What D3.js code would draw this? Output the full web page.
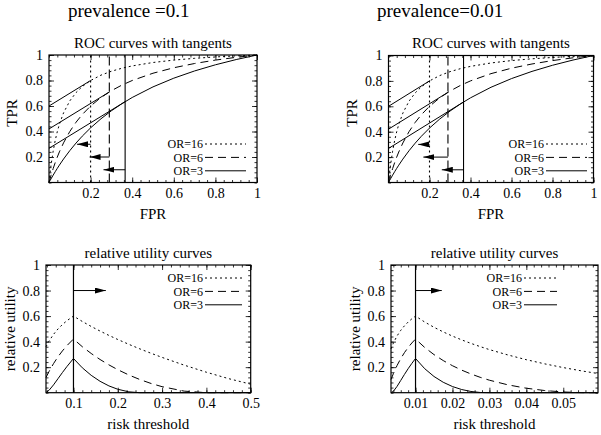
<!DOCTYPE html>
<html><head><meta charset="utf-8">
<script src="https://cdn.jsdelivr.net/npm/d3@7"></script>
<style>
body{margin:0;background:#fff}
svg{display:block}
text{font-family:"Liberation Serif","Times New Roman",serif;fill:#000}
</style>
</head><body>
<svg id="c" width="601" height="435"></svg>
<script>
// ---------------- data ----------------
const prevalenceTitles = ["prevalence =0.1", "prevalence=0.01"];
const prevalences = [0.1, 0.01];
const orLabels = ["OR=16", "OR=6", "OR=3"];

// ROC curves (FPR vs TPR) for each odds ratio
const rocFPR  = [0,0.005,0.01,0.02,0.03,0.04,0.05,0.07,0.1,0.13,0.16,0.2,0.25,0.3,0.35,0.4,0.5,0.6,0.7,0.8,0.9,1];
const rocTPR16 = [0,0.0744,0.1391,0.2462,0.3310,0.4000,0.4571,0.5464,0.6400,0.7051,0.7529,0.8,0.8421,0.8727,0.8960,0.9143,0.9412,0.96,0.9739,0.9846,0.9931,1];
const rocTPR6  = [0,0.0293,0.0571,0.1091,0.1565,0.2,0.24,0.3111,0.4,0.4727,0.5333,0.6,0.6667,0.72,0.7636,0.8,0.8571,0.9,0.9333,0.96,0.9818,1];
const rocTPR3  = [0,0.0149,0.0294,0.0577,0.0849,0.1111,0.1364,0.1842,0.25,0.3095,0.3636,0.4286,0.5,0.5625,0.6176,0.6667,0.75,0.8182,0.875,0.9231,0.9643,1];

// tangent points (slope 1) and their intercepts
const tangentFPR = [0.2, 0.29, 0.366];
const tangentTPR = [0.8, 0.71, 0.634];
const tangentIntercept = [0.6, 0.42, 0.268];
const arrowTPR = [0.3, 0.2, 0.1];
const arrowTipFPR = [[0.135, 0.195, 0.262], [0.145, 0.17, 0.26]];

// relative utility curves, prevalence 0.1
const riskA = [0.038,0.045,0.055,0.065,0.075,0.085,0.1,0.12,0.14,0.16,0.18,0.2,0.225,0.25,0.275,0.3,0.35,0.4,0.45,0.5];
const ruA16 = [0.3597,0.4049,0.4571,0.4989,0.5336,0.5632,0.6,0.5577,0.5188,0.4827,0.4487,0.4167,0.3788,0.3429,0.3089,0.2764,0.2156,0.1603,0.1103,0.0667];
const ruA6  = [0.1193,0.1670,0.2280,0.2810,0.3271,0.3677,0.4202,0.3600,0.3071,0.2600,0.2180,0.1803,0.1388,0.1029,0.0724,0.0471,0.0123,0,0,0];
const ruA3  = [0.0015,0.0193,0.0614,0.1094,0.1576,0.2038,0.2679,0.1948,0.1361,0.0894,0.0533,0.0269,0.0067,0,0,0,0,0,0,0];
// relative utility curves, prevalence 0.01
const riskB = [0.00336,0.004,0.005,0.006,0.007,0.008,0.009,0.01,0.0125,0.015,0.0175,0.02,0.0225,0.025,0.0275,0.03,0.035,0.04,0.045,0.05,0.055,0.0594];
const ruB16 = [0.3432,0.3885,0.4446,0.4883,0.5237,0.5533,0.5783,0.6,0.5531,0.5123,0.4760,0.4432,0.4135,0.3862,0.3609,0.3375,0.2955,0.2584,0.2257,0.1966,0.1706,0.1499];
const ruB6  = [0.1032,0.1491,0.2129,0.2672,0.3137,0.3540,0.3892,0.4202,0.3538,0.2984,0.2516,0.2114,0.1767,0.1467,0.1205,0.0979,0.0615,0.0350,0.0168,0.0056,0.0005,0];
const ruB3  = [0,0.0107,0.0494,0.0962,0.1431,0.1879,0.2295,0.2679,0.1877,0.1271,0.0816,0.0482,0.0247,0.0096,0.0017,0,0,0,0,0,0,0];
const utilArrowTip = [0.173, 0.0171];
const utilArrowLevel = 0.8;

// axes
const rocTicks = [0.2, 0.4, 0.6, 0.8, 1];
const ruYTicks = [0.2, 0.4, 0.6, 0.8, 1];
const ruXTicksA = [0.1, 0.2, 0.3, 0.4, 0.5];
const ruXTicksB = [0.01, 0.02, 0.03, 0.04, 0.05];
const ruDomainA = [0.038, 0.5];
const ruDomainB = [0.00336, 0.0594];

// ---------------- layout / style ----------------
const dashes = ["2,3", "8,5", null];
const rocBoxes = [{l:49, r:257, t:55, b:182.5}, {l:388.5, r:593.5, t:55.5, b:182.5}];
const ruBoxes  = [{l:46, r:250.7, t:265, b:392.7}, {l:391, r:598, t:265, b:392.7}];
const rocLegend = [{te:203, x1:205, x2:246, ys:[144,157.4,170.8]}, {te:544, x1:546, x2:587, ys:[144,157.4,170.8]}];
const ruLegend  = [{te:203, x1:205, x2:242, ys:[278,291.4,304.8]}, {te:522, x1:524, x2:557, ys:[278,291.4,304.8]}];
const titleX = [68, 377];

const svg = d3.select("#c");
svg.append("rect").attr("width", 601).attr("height", 435).attr("fill", "#fff");
const defs = svg.append("defs");
defs.append("marker").attr("id", "ah").attr("viewBox", "0 0 11 6")
  .attr("refX", 11).attr("refY", 3).attr("markerWidth", 11).attr("markerHeight", 6)
  .attr("markerUnits", "userSpaceOnUse").attr("orient", "auto")
  .append("path").attr("d", "M0,0L11,3L0,6Z").attr("fill", "#000");

function minorTicks(dom, major) {
  const step = (major[1] - major[0]) / 5;
  const out = [];
  const start = Math.ceil((dom[0] - 1e-9) / step);
  for (let i = start; i * step <= dom[1] + 1e-9; i++) out.push(+(i * step).toFixed(6));
  return out;
}

function frame(g, x, y, xMajor, yMajor, box) {
  const w = box.r - box.l, h = box.b - box.t;
  const xMinor = minorTicks(x.domain(), xMajor), yMinor = minorTicks(y.domain(), yMajor);
  const styleAxis = sel => { sel.select(".domain").remove(); sel.selectAll("line").attr("stroke", "#000").attr("stroke-width", 0.8); };
  // minor ticks (all sides)
  g.append("g").attr("transform", `translate(0,${h})`).call(d3.axisBottom(x).tickValues(xMinor).tickSize(-2.5).tickFormat("")).call(styleAxis);
  g.append("g").call(d3.axisTop(x).tickValues(xMinor).tickSize(-2.5).tickFormat("")).call(styleAxis);
  g.append("g").call(d3.axisLeft(y).tickValues(yMinor).tickSize(-2.5).tickFormat("")).call(styleAxis);
  g.append("g").attr("transform", `translate(${w},0)`).call(d3.axisRight(y).tickValues(yMinor).tickSize(-2.5).tickFormat("")).call(styleAxis);
  // major ticks with labels
  const xa = g.append("g").attr("transform", `translate(0,${h})`)
    .call(d3.axisBottom(x).tickValues(xMajor).tickSize(-5).tickPadding(5.5).tickFormat(d => String(d))).call(styleAxis);
  xa.selectAll("text").attr("font-size", 14).attr("font-family", null);
  g.append("g").call(d3.axisTop(x).tickValues(xMajor).tickSize(-5).tickFormat("")).call(styleAxis);
  const ya = g.append("g")
    .call(d3.axisLeft(y).tickValues(yMajor).tickSize(-5).tickPadding(6).tickFormat(d => String(d))).call(styleAxis);
  ya.selectAll("text").attr("font-size", 14).attr("font-family", null);
  g.append("g").attr("transform", `translate(${w},0)`).call(d3.axisRight(y).tickValues(yMajor).tickSize(-5).tickFormat("")).call(styleAxis);
  g.append("rect").attr("width", w).attr("height", h).attr("fill", "none").attr("stroke", "#000").attr("stroke-width", 1.2);
}

function legend(g, L) {
  orLabels.forEach((lab, i) => {
    g.append("text").attr("x", L.te).attr("y", L.ys[i]).attr("dy", "0.35em")
      .attr("text-anchor", "end").attr("font-size", 12).text(lab);
    g.append("line").attr("x1", L.x1).attr("x2", L.x2).attr("y1", L.ys[i]).attr("y2", L.ys[i])
      .attr("stroke", "#000").attr("stroke-width", 1).attr("stroke-dasharray", dashes[i]);
  });
}

const rocSeries = [rocTPR16, rocTPR6, rocTPR3];
const ruSeries = [[ruA16, ruA6, ruA3], [ruB16, ruB6, ruB3]];
const riskSets = [riskA, riskB];
const ruDomains = [ruDomainA, ruDomainB];
const ruXTicks = [ruXTicksA, ruXTicksB];

prevalences.forEach((p, k) => {
  // main title
  svg.append("text").attr("x", titleX[k]).attr("y", 17).attr("font-size", 19).text(prevalenceTitles[k]);

  // ---- ROC panel ----
  const B = rocBoxes[k];
  const x = d3.scaleLinear().domain([0, 1]).range([0, B.r - B.l]);
  const y = d3.scaleLinear().domain([0, 1]).range([B.b - B.t, 0]);
  const g = svg.append("g").attr("transform", `translate(${B.l},${B.t})`);
  const line = d3.line().x(d => x(d[0])).y(d => y(d[1]));

  rocSeries.forEach((tpr, i) => {
    g.append("path").datum(rocFPR.map((f, j) => [f, tpr[j]]))
      .attr("d", line).attr("fill", "none").attr("stroke", "#000").attr("stroke-width", 1)
      .attr("stroke-dasharray", dashes[i]);
    // tangent segment
    g.append("path").datum([[0, tangentIntercept[i]], [tangentFPR[i], tangentTPR[i]]])
      .attr("d", line).attr("fill", "none").attr("stroke", "#000").attr("stroke-width", 1);
    // vertical line at tangent FPR
    g.append("line").attr("x1", x(tangentFPR[i])).attr("x2", x(tangentFPR[i]))
      .attr("y1", y(0)).attr("y2", y(1)).attr("stroke", "#000").attr("stroke-width", 1.1)
      .attr("stroke-dasharray", i === 1 ? "9,4" : dashes[i]);
    // arrow pointing left
    g.append("line").attr("x1", x(tangentFPR[i])).attr("x2", x(arrowTipFPR[k][i]))
      .attr("y1", y(arrowTPR[i])).attr("y2", y(arrowTPR[i]))
      .attr("stroke", "#000").attr("stroke-width", 1).attr("marker-end", "url(#ah)");
  });
  frame(g, x, y, rocTicks, rocTicks, B);
  legend(svg, rocLegend[k]);
  const cx = (B.l + B.r) / 2;
  svg.append("text").attr("x", cx).attr("y", 47.5).attr("text-anchor", "middle").attr("font-size", 15).text("ROC curves with tangents");
  svg.append("text").attr("x", cx).attr("y", 219).attr("text-anchor", "middle").attr("font-size", 15).text("FPR");
  svg.append("text").attr("transform", `translate(${B.l - 32},113) rotate(-90)`).attr("text-anchor", "middle").attr("font-size", 15).text("TPR");

  // ---- relative utility panel ----
  const R = ruBoxes[k];
  const xr = d3.scaleLinear().domain(ruDomains[k]).range([0, R.r - R.l]);
  const yr = d3.scaleLinear().domain([0, 1]).range([R.b - R.t, 0]);
  const gr = svg.append("g").attr("transform", `translate(${R.l},${R.t})`);
  const liner = d3.line().x(d => xr(d[0])).y(d => yr(d[1]));
  ruSeries[k].forEach((vals, i) => {
    gr.append("path").datum(riskSets[k].map((r, j) => [r, vals[j]]))
      .attr("d", liner).attr("fill", "none").attr("stroke", "#000").attr("stroke-width", 1)
      .attr("stroke-dasharray", dashes[i]);
  });
  gr.append("line").attr("x1", xr(p)).attr("x2", xr(p)).attr("y1", yr(0)).attr("y2", yr(1))
    .attr("stroke", "#000").attr("stroke-width", 1.2);
  gr.append("line").attr("x1", xr(p)).attr("x2", xr(utilArrowTip[k]))
    .attr("y1", yr(utilArrowLevel)).attr("y2", yr(utilArrowLevel))
    .attr("stroke", "#000").attr("stroke-width", 1).attr("marker-end", "url(#ah)");
  frame(gr, xr, yr, ruXTicks[k], ruYTicks, R);
  legend(svg, ruLegend[k]);
  const rcx = (R.l + R.r) / 2;
  svg.append("text").attr("x", rcx).attr("y", 257.5).attr("text-anchor", "middle").attr("font-size", 15).text("relative utility  curves");
  svg.append("text").attr("x", rcx).attr("y", 429).attr("text-anchor", "middle").attr("font-size", 15).text("risk threshold");
  svg.append("text").attr("transform", `translate(${R.l - 31},${(R.t + R.b) / 2}) rotate(-90)`).attr("text-anchor", "middle").attr("font-size", 15).text("relative utility");
});
</script>
</body></html>
